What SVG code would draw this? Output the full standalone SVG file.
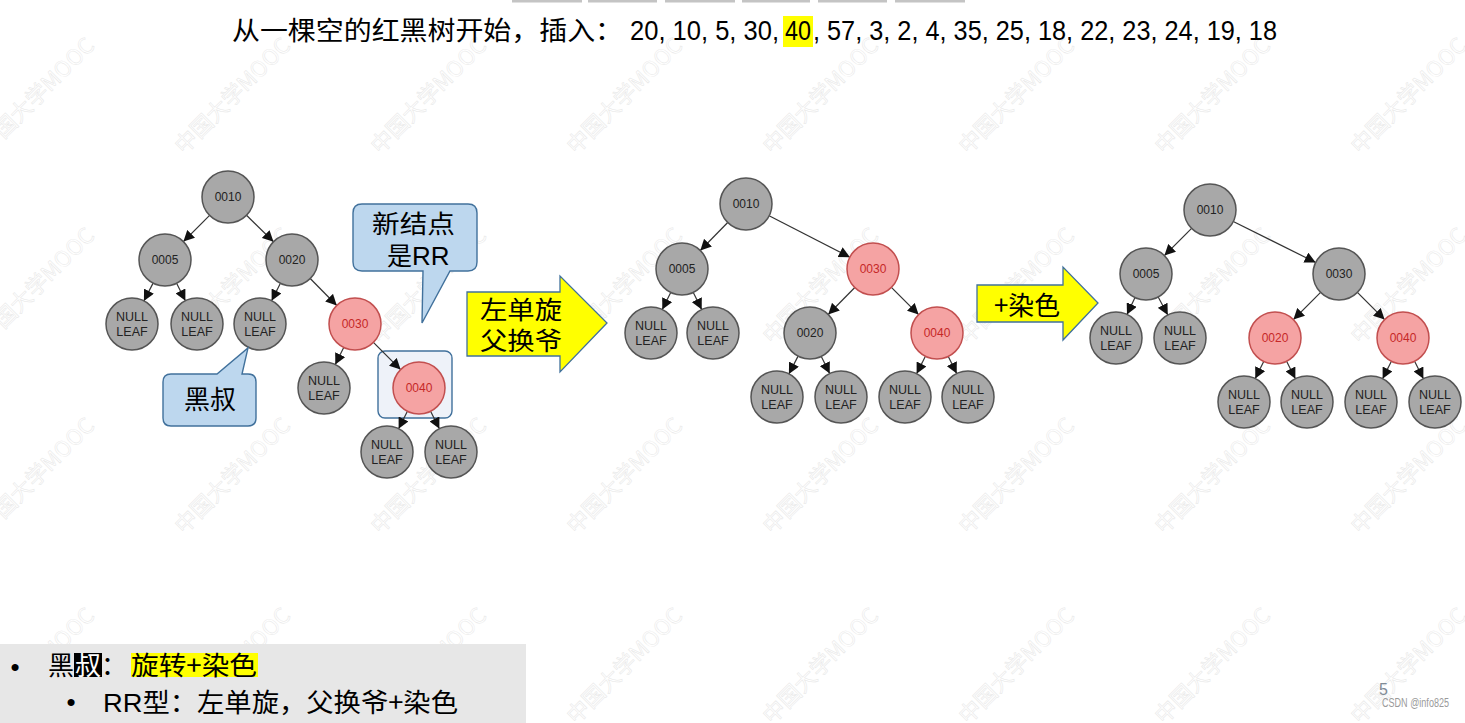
<svg xmlns="http://www.w3.org/2000/svg" width="1465" height="723" viewBox="0 0 1465 723">
<defs>
<marker id="ah" viewBox="0 0 10 10" refX="10" refY="5" markerWidth="11" markerHeight="11" markerUnits="userSpaceOnUse" orient="auto">
<path d="M0,0 L10,5 L0,10 Z" fill="#111"/>
</marker>
</defs>
<style>
.cjk{font-family:"Noto Sans CJK SC","Noto Sans",sans-serif;fill:#000;}
.num{font-family:"Liberation Sans",Arial,sans-serif;fill:#000;}
.wm{font-family:"Noto Sans CJK SC","Liberation Sans",sans-serif;font-size:22px;fill:#ffffff;stroke:#e6e6e6;stroke-width:0.5;}
.edge{stroke:#333;stroke-width:1.2;fill:none;marker-end:url(#ah);}
.g{fill:#a8a8a8;stroke:#555;stroke-width:1.5;}
.r{fill:#f5a3a3;stroke:#c24f4f;stroke-width:1.5;}
.lt{font-family:"Liberation Sans",Arial,sans-serif;font-size:12px;fill:#222;text-anchor:middle;}
.rt{font-family:"Liberation Sans",Arial,sans-serif;font-size:12px;fill:#c62828;text-anchor:middle;}
.nl{font-family:"Liberation Sans",Arial,sans-serif;font-size:12.5px;fill:#222;text-anchor:middle;}
.call{fill:#bdd7ee;stroke:#41719c;stroke-width:1.4;}
.bigarrow{fill:#ffff00;stroke:#41719c;stroke-width:1.3;}
</style>
<rect width="1465" height="723" fill="#ffffff"/>

<g id="toolbar-shadow" fill="#c4c4c4">
<rect x="512" y="0" width="70" height="2.5"/>
<rect x="588" y="0" width="69" height="2.5"/>
<rect x="665" y="0" width="70" height="2.5"/>
<rect x="742" y="0" width="68" height="2.5"/>
<rect x="818" y="0" width="69" height="2.5"/>
<rect x="895" y="0" width="70" height="2.5"/>
</g>

<g id="watermark">
<text class="wm" transform="translate(-12,155) rotate(-45)">中国大学MOOC</text>
<text class="wm" transform="translate(184,155) rotate(-45)">中国大学MOOC</text>
<text class="wm" transform="translate(380,155) rotate(-45)">中国大学MOOC</text>
<text class="wm" transform="translate(576,155) rotate(-45)">中国大学MOOC</text>
<text class="wm" transform="translate(772,155) rotate(-45)">中国大学MOOC</text>
<text class="wm" transform="translate(968,155) rotate(-45)">中国大学MOOC</text>
<text class="wm" transform="translate(1164,155) rotate(-45)">中国大学MOOC</text>
<text class="wm" transform="translate(1360,155) rotate(-45)">中国大学MOOC</text>
<text class="wm" transform="translate(-12,345) rotate(-45)">中国大学MOOC</text>
<text class="wm" transform="translate(184,345) rotate(-45)">中国大学MOOC</text>
<text class="wm" transform="translate(380,345) rotate(-45)">中国大学MOOC</text>
<text class="wm" transform="translate(576,345) rotate(-45)">中国大学MOOC</text>
<text class="wm" transform="translate(772,345) rotate(-45)">中国大学MOOC</text>
<text class="wm" transform="translate(968,345) rotate(-45)">中国大学MOOC</text>
<text class="wm" transform="translate(1164,345) rotate(-45)">中国大学MOOC</text>
<text class="wm" transform="translate(1360,345) rotate(-45)">中国大学MOOC</text>
<text class="wm" transform="translate(-12,535) rotate(-45)">中国大学MOOC</text>
<text class="wm" transform="translate(184,535) rotate(-45)">中国大学MOOC</text>
<text class="wm" transform="translate(380,535) rotate(-45)">中国大学MOOC</text>
<text class="wm" transform="translate(576,535) rotate(-45)">中国大学MOOC</text>
<text class="wm" transform="translate(772,535) rotate(-45)">中国大学MOOC</text>
<text class="wm" transform="translate(968,535) rotate(-45)">中国大学MOOC</text>
<text class="wm" transform="translate(1164,535) rotate(-45)">中国大学MOOC</text>
<text class="wm" transform="translate(1360,535) rotate(-45)">中国大学MOOC</text>
<text class="wm" transform="translate(-12,725) rotate(-45)">中国大学MOOC</text>
<text class="wm" transform="translate(184,725) rotate(-45)">中国大学MOOC</text>
<text class="wm" transform="translate(380,725) rotate(-45)">中国大学MOOC</text>
<text class="wm" transform="translate(576,725) rotate(-45)">中国大学MOOC</text>
<text class="wm" transform="translate(772,725) rotate(-45)">中国大学MOOC</text>
<text class="wm" transform="translate(968,725) rotate(-45)">中国大学MOOC</text>
<text class="wm" transform="translate(1164,725) rotate(-45)">中国大学MOOC</text>
<text class="wm" transform="translate(1360,725) rotate(-45)">中国大学MOOC</text>
</g>

<g id="title">
<rect x="783" y="16" width="30" height="31" fill="#ffff00"/>
<text class="cjk" x="232" y="40" font-size="26" textLength="391" lengthAdjust="spacingAndGlyphs">从一棵空的红黑树开始，插入：</text>
<text class="num" x="630" y="40" font-size="27" textLength="149" lengthAdjust="spacingAndGlyphs">20, 10, 5, 30,</text>
<text class="num" x="785" y="40" font-size="27" textLength="26" lengthAdjust="spacingAndGlyphs">40</text>
<text class="num" x="813" y="40" font-size="27" textLength="464" lengthAdjust="spacingAndGlyphs">, 57, 3, 2, 4, 35, 25, 18, 22, 23, 24, 19, 18</text>
</g>

<g id="t1-highlight">
<rect x="378" y="351" width="74" height="67" rx="7" fill="#eef2f9" stroke="#41719c" stroke-width="1.4"/>
</g>

<g id="connectors">
<!-- tree 1 -->
<path class="edge" d="M209.6,215.4 L183.4,241.6"/>
<path class="edge" d="M246.5,215.2 L273.5,241.8"/>
<path class="edge" d="M153.1,283.1 L143.9,300.9"/>
<path class="edge" d="M176.6,283.2 L185.4,300.8"/>
<path class="edge" d="M280.4,283.2 L271.6,300.8"/>
<path class="edge" d="M310.2,278.5 L336.8,305.5"/>
<path class="edge" d="M343.7,347.4 L335.3,364.6"/>
<path class="edge" d="M373.4,342.4 L400.6,369.6"/>
<path class="edge" d="M407.4,411.2 L398.6,428.8"/>
<path class="edge" d="M430.6,411.2 L439.4,428.8"/>
<!-- tree 2 -->
<path class="edge" d="M727.7,222.5 L700.3,250.5"/>
<path class="edge" d="M769.1,215.8 L849.9,257.2"/>
<path class="edge" d="M670.7,292.4 L662.3,309.6"/>
<path class="edge" d="M693.3,292.4 L701.7,309.6"/>
<path class="edge" d="M854.8,287.5 L828.2,314.5"/>
<path class="edge" d="M891.4,287.4 L918.6,314.6"/>
<path class="edge" d="M798.1,356.1 L788.9,373.9"/>
<path class="edge" d="M821.3,356.4 L829.7,373.6"/>
<path class="edge" d="M925.4,356.2 L916.6,373.8"/>
<path class="edge" d="M948.3,356.4 L956.7,373.6"/>
<!-- tree 3 -->
<path class="edge" d="M1191.6,228.4 L1164.4,255.6"/>
<path class="edge" d="M1233.3,221.5 L1315.7,262.5"/>
<path class="edge" d="M1135.0,297.5 L1127.0,314.5"/>
<path class="edge" d="M1158.2,297.0 L1167.8,315.0"/>
<path class="edge" d="M1320.6,292.4 L1293.4,319.6"/>
<path class="edge" d="M1357.4,292.4 L1384.6,319.6"/>
<path class="edge" d="M1263.7,361.4 L1255.3,378.6"/>
<path class="edge" d="M1286.6,361.2 L1295.4,378.8"/>
<path class="edge" d="M1391.4,361.2 L1382.6,378.8"/>
<path class="edge" d="M1414.6,361.2 L1423.4,378.8"/>
</g>

<!-- tree 1 nodes -->
<g id="t1-n0010"><circle class="g" cx="228" cy="197" r="26"/><text class="lt" x="228" y="201">0010</text></g>
<g id="t1-n0005"><circle class="g" cx="165" cy="260" r="26"/><text class="lt" x="165" y="264">0005</text></g>
<g id="t1-n0020"><circle class="g" cx="292" cy="260" r="26"/><text class="lt" x="292" y="264">0020</text></g>
<g id="t1-l1"><circle class="g" cx="132" cy="324" r="26"/><text class="nl" x="132" y="321">NULL</text><text class="nl" x="132" y="336">LEAF</text></g>
<g id="t1-l2"><circle class="g" cx="197" cy="324" r="26"/><text class="nl" x="197" y="321">NULL</text><text class="nl" x="197" y="336">LEAF</text></g>
<g id="t1-l3"><circle class="g" cx="260" cy="324" r="26"/><text class="nl" x="260" y="321">NULL</text><text class="nl" x="260" y="336">LEAF</text></g>
<g id="t1-n0030"><circle class="r" cx="355" cy="324" r="26"/><text class="rt" x="355" y="328">0030</text></g>
<g id="t1-l4"><circle class="g" cx="324" cy="388" r="26"/><text class="nl" x="324" y="385">NULL</text><text class="nl" x="324" y="400">LEAF</text></g>
<g id="t1-n0040"><circle class="r" cx="419" cy="388" r="26"/><text class="rt" x="419" y="392">0040</text></g>
<g id="t1-l5"><circle class="g" cx="387" cy="452" r="26"/><text class="nl" x="387" y="449">NULL</text><text class="nl" x="387" y="464">LEAF</text></g>
<g id="t1-l6"><circle class="g" cx="451" cy="452" r="26"/><text class="nl" x="451" y="449">NULL</text><text class="nl" x="451" y="464">LEAF</text></g>

<!-- tree 2 nodes -->
<g id="t2-n0010"><circle class="g" cx="746" cy="204" r="26"/><text class="lt" x="746" y="208">0010</text></g>
<g id="t2-n0005"><circle class="g" cx="682" cy="269" r="26"/><text class="lt" x="682" y="273">0005</text></g>
<g id="t2-n0030"><circle class="r" cx="873" cy="269" r="26"/><text class="rt" x="873" y="273">0030</text></g>
<g id="t2-l1"><circle class="g" cx="651" cy="333" r="26"/><text class="nl" x="651" y="330">NULL</text><text class="nl" x="651" y="345">LEAF</text></g>
<g id="t2-l2"><circle class="g" cx="713" cy="333" r="26"/><text class="nl" x="713" y="330">NULL</text><text class="nl" x="713" y="345">LEAF</text></g>
<g id="t2-n0020"><circle class="g" cx="810" cy="333" r="26"/><text class="lt" x="810" y="337">0020</text></g>
<g id="t2-n0040"><circle class="r" cx="937" cy="333" r="26"/><text class="rt" x="937" y="337">0040</text></g>
<g id="t2-l3"><circle class="g" cx="777" cy="397" r="26"/><text class="nl" x="777" y="394">NULL</text><text class="nl" x="777" y="409">LEAF</text></g>
<g id="t2-l4"><circle class="g" cx="841" cy="397" r="26"/><text class="nl" x="841" y="394">NULL</text><text class="nl" x="841" y="409">LEAF</text></g>
<g id="t2-l5"><circle class="g" cx="905" cy="397" r="26"/><text class="nl" x="905" y="394">NULL</text><text class="nl" x="905" y="409">LEAF</text></g>
<g id="t2-l6"><circle class="g" cx="968" cy="397" r="26"/><text class="nl" x="968" y="394">NULL</text><text class="nl" x="968" y="409">LEAF</text></g>

<!-- tree 3 nodes -->
<g id="t3-n0010"><circle class="g" cx="1210" cy="210" r="26"/><text class="lt" x="1210" y="214">0010</text></g>
<g id="t3-n0005"><circle class="g" cx="1146" cy="274" r="26"/><text class="lt" x="1146" y="278">0005</text></g>
<g id="t3-n0030"><circle class="g" cx="1339" cy="274" r="26"/><text class="lt" x="1339" y="278">0030</text></g>
<g id="t3-l1"><circle class="g" cx="1116" cy="338" r="26"/><text class="nl" x="1116" y="335">NULL</text><text class="nl" x="1116" y="350">LEAF</text></g>
<g id="t3-l2"><circle class="g" cx="1180" cy="338" r="26"/><text class="nl" x="1180" y="335">NULL</text><text class="nl" x="1180" y="350">LEAF</text></g>
<g id="t3-n0020"><circle class="r" cx="1275" cy="338" r="26"/><text class="rt" x="1275" y="342">0020</text></g>
<g id="t3-n0040"><circle class="r" cx="1403" cy="338" r="26"/><text class="rt" x="1403" y="342">0040</text></g>
<g id="t3-l3"><circle class="g" cx="1244" cy="402" r="26"/><text class="nl" x="1244" y="399">NULL</text><text class="nl" x="1244" y="414">LEAF</text></g>
<g id="t3-l4"><circle class="g" cx="1307" cy="402" r="26"/><text class="nl" x="1307" y="399">NULL</text><text class="nl" x="1307" y="414">LEAF</text></g>
<g id="t3-l5"><circle class="g" cx="1371" cy="402" r="26"/><text class="nl" x="1371" y="399">NULL</text><text class="nl" x="1371" y="414">LEAF</text></g>
<g id="t3-l6"><circle class="g" cx="1435" cy="402" r="26"/><text class="nl" x="1435" y="399">NULL</text><text class="nl" x="1435" y="414">LEAF</text></g>

<!-- callouts -->
<g id="callout-heishu">
<path class="call" d="M171,374 L217,374 L248,348 L242,374 L248,374 Q256,374 256,382 L256,418 Q256,426 248,426 L171,426 Q163,426 163,418 L163,382 Q163,374 171,374 Z"/>
<text class="cjk" x="210" y="409" font-size="26" text-anchor="middle">黑叔</text>
</g>
<g id="callout-rr">
<path class="call" d="M362,204 L468,204 Q477,204 477,213 L477,262 Q477,271 468,271 L450,271 L422,323 L423,271 L362,271 Q353,271 353,262 L353,213 Q353,204 362,204 Z"/>
<text class="cjk" x="372" y="233" font-size="25" textLength="83" lengthAdjust="spacingAndGlyphs">新结点</text>
<text class="cjk" x="387" y="265" font-size="25">是<tspan class="num" font-size="26">RR</tspan></text>
</g>

<!-- big arrows -->
<g id="arrow-rotate">
<path class="bigarrow" d="M467,292 L560,292 L560,276 L607,323 L560,372 L560,356 L467,356 Z"/>
<text class="cjk" x="480" y="319" font-size="25" textLength="82" lengthAdjust="spacingAndGlyphs">左单旋</text>
<text class="cjk" x="480" y="350" font-size="25" textLength="82" lengthAdjust="spacingAndGlyphs">父换爷</text>
</g>
<g id="arrow-color">
<path class="bigarrow" d="M977,285 L1063,285 L1063,267 L1098,303 L1063,340 L1063,322 L977,322 Z"/>
<text class="cjk" x="994" y="315" font-size="26" textLength="66" lengthAdjust="spacingAndGlyphs">+染色</text>
</g>

<!-- bottom notes -->
<g id="notes">
<rect x="0" y="644" width="526" height="79" fill="#e7e7e7"/>
<text class="num" x="10.5" y="676" font-size="26">•</text>
<text class="cjk" x="48" y="675" font-size="26">黑</text>
<rect x="74" y="653" width="28" height="24" fill="#000"/>
<text class="cjk" x="75" y="675" font-size="26" style="fill:#fff">叔</text>
<text class="cjk" x="101" y="675" font-size="26">：</text>
<rect x="131" y="653" width="127" height="24" fill="#ffff00"/>
<text class="cjk" x="131" y="675" font-size="26" textLength="126" lengthAdjust="spacingAndGlyphs">旋转+染色</text>
<text class="num" x="66.5" y="711" font-size="26">•</text>
<text class="cjk" x="103" y="712" font-size="26" textLength="355" lengthAdjust="spacingAndGlyphs"><tspan class="num">RR</tspan>型：左单旋，父换爷+染色</text>
</g>

<g id="footer">
<text class="num" x="1379" y="695" font-size="16" style="fill:#7f8a96">5</text>
<text class="num" x="1382" y="707" font-size="12" textLength="67" lengthAdjust="spacingAndGlyphs" style="fill:#9a9a9a">CSDN @info825</text>
</g>
</svg>
